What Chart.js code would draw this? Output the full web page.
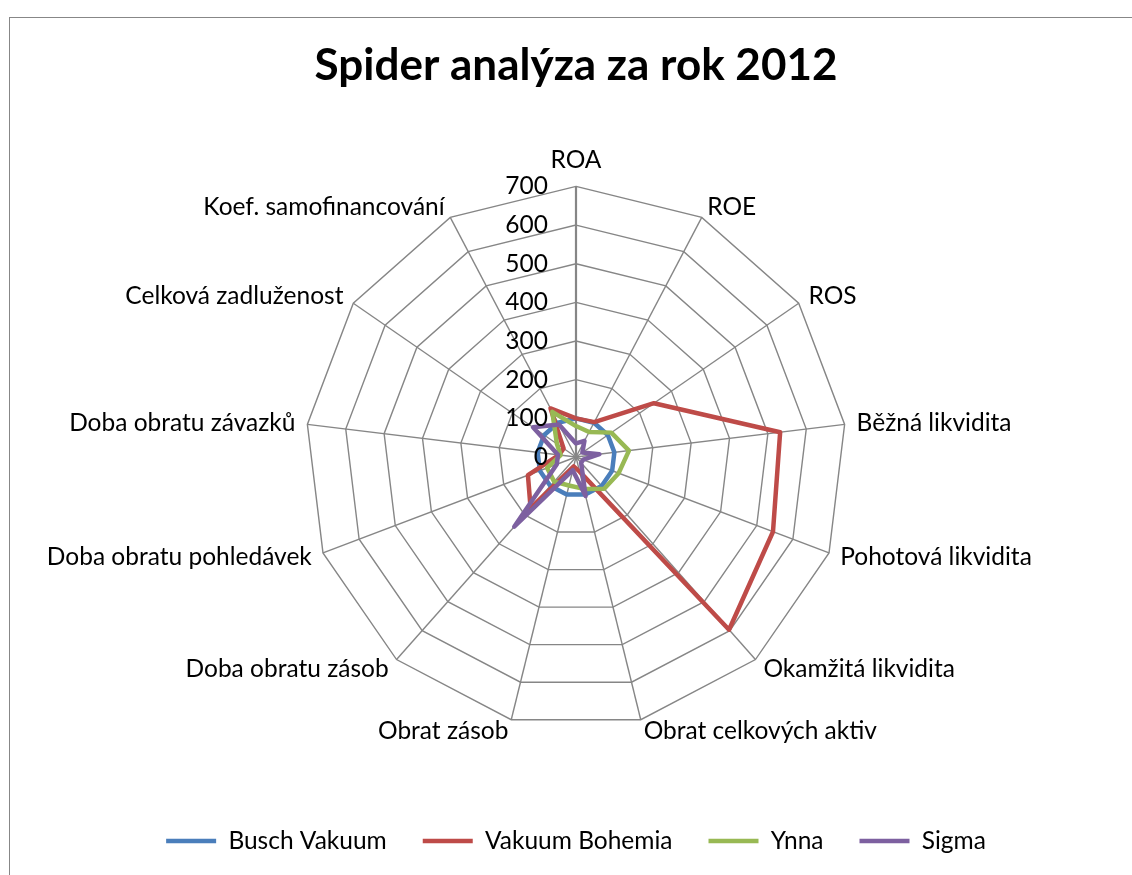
<!DOCTYPE html>
<html>
<head>
<meta charset="utf-8">
<script src="https://cdn.jsdelivr.net/npm/chart.js@4.4.1/dist/chart.umd.min.js"></script>
<style>
  html, body { margin: 0; padding: 0; background: #fff; overflow: hidden; }
  #frame { position: absolute; left: 9px; top: 17px; width: 1200px; height: 1000px; border: 1px solid #878787; }
  #chartCanvas { position: absolute; left: 0; top: 0; }
</style>
</head>
<body>
<div id="frame"></div>
<canvas id="chartCanvas" width="1152" height="875"></canvas>
<script>
// --- data ---
const axisLabels = [
  "ROA", "ROE", "ROS", "Běžná likvidita", "Pohotová likvidita", "Okamžitá likvidita",
  "Obrat celkových aktiv", "Obrat zásob", "Doba obratu zásob", "Doba obratu pohledávek",
  "Doba obratu závazků", "Celková zadluženost", "Koef. samofinancování"
];
const seriesNames = ["Busch Vakuum", "Vakuum Bohemia", "Ynna", "Sigma"];
const buschVakuum   = [100, 100, 100, 100, 100, 100, 100, 100, 100, 100, 100, 100, 100];
const vakuumBohemia = [100, 102, 245, 532, 545, 597, 39, 25, 177, 133, 44, 39, 142];
const ynna          = [80, 73, 111, 138, 118, 110, 85, 76, 85, 80, 40, 60, 132];
const sigma         = [35, 47, 20, 61, 20, 20, 104, 35, 241, 53, 47, 135, 95];
const tickValues = [0, 100, 200, 300, 400, 500, 600, 700];

const colors = ["#4A7EBB", "#BE4B48", "#98B954", "#7D60A0"];
const canvas = document.getElementById("chartCanvas");

// value labels sit left of the ROA axis, like in Excel
const tickLabelsPlugin = {
  id: "tickLabels",
  afterDraw(chart) {
    const scale = chart.scales.r;
    const ctx = chart.ctx;
    ctx.save();
    ctx.font = "24.5px Lato";
    ctx.fillStyle = "#000";
    ctx.textAlign = "right";
    ctx.textBaseline = "middle";
    tickValues.forEach(v => {
      const d = scale.getDistanceFromCenterForValue(v);
      ctx.fillText(String(v), scale.xCenter - 28, scale.yCenter - d);
    });
    ctx.restore();
  }
};

function buildChart() {
  Chart.defaults.font.family = "Lato";
  Chart.defaults.color = "#000";

  const seriesData = [buschVakuum, vakuumBohemia, ynna, sigma];
  const datasets = seriesData.map((data, i) => ({
    label: seriesNames[i],
    data,
    borderColor: colors[i],
    backgroundColor: colors[i],
    borderWidth: 4.5,
    borderJoinStyle: "round",
    borderCapStyle: "round",
    pointRadius: 0,
    fill: false,
    order: 4 - i
  }));

  new Chart(canvas, {
    type: "radar",
    data: { labels: axisLabels, datasets },
    options: {
      responsive: false,
      animation: false,
      devicePixelRatio: 1,
      layout: { padding: { top: 0, bottom: 11.75, left: 0, right: 0 } },
      plugins: {
        title: {
          display: true,
          text: "Spider analýza za rok 2012",
          font: { size: 44, weight: "bold" },
          padding: { top: 39.6, bottom: 33.6 }
        },
        legend: {
          position: "bottom",
          // empty title only adds the gap between the plot and the legend row
          title: { display: true, text: "", font: { size: 10, lineHeight: 1 }, padding: { top: 31.75, bottom: 0 } },
          labels: {
            usePointStyle: true,
            pointStyle: "line",
            pointStyleWidth: 50,
            padding: 36,
            font: { size: 24.5 },
            sort: (a, b) => a.datasetIndex - b.datasetIndex
          }
        },
        tooltip: { enabled: false }
      },
      scales: {
        r: {
          min: 0,
          max: 700,
          ticks: { stepSize: 100, display: false },
          grid: { color: "#868686", lineWidth: 1.4 },
          angleLines: { color: "#868686", lineWidth: c => (c.index === 0 ? 2.2 : 1.4) },
          pointLabels: {
            // Excel centres the side labels on their spoke, only ROA sits above
            font: c => ({ size: 24.5, lineHeight: c.index === 0 ? 1.2 : 0.01 }),
            padding: 12,
            color: "#000"
          }
        }
      }
    },
    plugins: [tickLabelsPlugin]
  });
}

Promise.all([
  document.fonts.load("24.5px Lato"),
  document.fonts.load("bold 44px Lato")
]).then(buildChart, buildChart);
</script>
</body>
</html>
